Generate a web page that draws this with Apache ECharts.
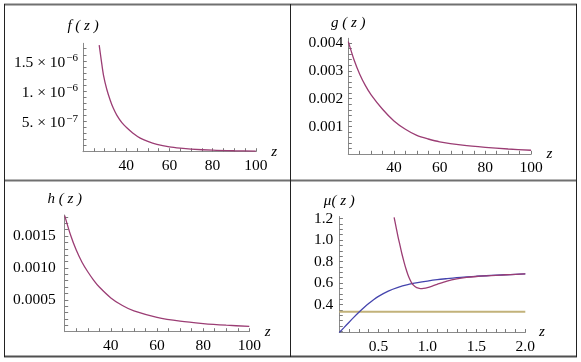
<!DOCTYPE html>
<html>
<head>
<meta charset="utf-8">
<script src="https://cdn.jsdelivr.net/npm/echarts@6/dist/echarts.min.js"></script>
<style>
html,body{margin:0;padding:0;background:#fff}
#main{width:581px;height:362px}
</style>
</head>
<body>
<div id="main"></div>
<script>
// ---- data ----
var fZ = [27.5, 28.5, 29.5, 31, 32.6, 34, 35.7, 38, 40.4, 43, 46.5, 50, 54.2, 60, 65, 70, 80, 90, 100];
var fVal = [1.76e-6, 1.5e-6, 1.26e-6, 1.03e-6, 0.85e-6, 0.72e-6, 0.6e-6, 0.48e-6, 0.39e-6, 0.31e-6, 0.225e-6, 0.17e-6, 0.122e-6, 0.08e-6, 0.058e-6, 0.043e-6, 0.025e-6, 0.016e-6, 0.011e-6];

var gZ = [20, 22.5, 25, 27.5, 30, 35, 40, 45, 50, 55, 60, 70, 80, 90, 100];
var gVal = [0.00405, 0.0034, 0.00288, 0.00247, 0.00214, 0.00162, 0.0012, 0.0009, 0.00068, 0.00055, 0.00045, 0.00033, 0.00025, 0.00019, 0.000145];

var hZ = [20, 22.5, 25, 27.5, 30, 32.5, 35, 40, 45, 50, 60, 70, 80, 90, 100];
var hVal = [0.00182, 0.00152, 0.00128, 0.00109, 0.00094, 0.00081, 0.0007, 0.00053, 0.00041, 0.000325, 0.000225, 0.000165, 0.000128, 0.000102, 0.000083];

var muBlueZ = [0.1, 0.15, 0.2, 0.25, 0.3, 0.35, 0.4, 0.45, 0.5, 0.6, 0.7, 0.8, 0.9, 1.0, 1.1, 1.2, 1.3, 1.4, 1.5, 1.6, 1.7, 1.8, 1.9, 2.0];
var muBlue = [0.14, 0.188, 0.236, 0.283, 0.328, 0.37, 0.41, 0.445, 0.476, 0.525, 0.56, 0.585, 0.603, 0.618, 0.631, 0.641, 0.65, 0.657, 0.663, 0.668, 0.673, 0.677, 0.681, 0.685];

var muRedZ = [0.66, 0.68, 0.70, 0.72, 0.74, 0.76, 0.78, 0.80, 0.82, 0.84, 0.86, 0.88, 0.90, 0.93, 0.96, 1.0, 1.05, 1.1, 1.2, 1.3, 1.4, 1.5, 1.6, 1.7, 1.8, 1.9, 2.0];
var muRed = [1.21, 1.12, 1.03, 0.95, 0.87, 0.80, 0.735, 0.68, 0.635, 0.60, 0.578, 0.563, 0.554, 0.549, 0.551, 0.558, 0.572, 0.588, 0.617, 0.638, 0.652, 0.661, 0.667, 0.672, 0.677, 0.681, 0.685];

var muFlatZ = [0.1, 2.0];
var muFlat = [0.333, 0.333];

// tick labels
var zTicks = [40, 60, 80, 100];
var zLabels = ['40', '60', '80', '100'];
var zMinor = [25, 30, 35, 45, 50, 55, 65, 70, 75, 85, 90, 95];
var fTicks = [5e-7, 1e-6, 1.5e-6];
var fMant = ['5.', '1.', '1.5'];
var fExp = ['\u22127', '\u22126', '\u22126'];
var gTicks = [0.001, 0.002, 0.003, 0.004];
var gLabels = ['0.001', '0.002', '0.003', '0.004'];
var hTicks = [0.0005, 0.0010, 0.0015];
var hLabels = ['0.0005', '0.0010', '0.0015'];
var muXTicks = [0.5, 1.0, 1.5, 2.0];
var muXLabels = ['0.5', '1.0', '1.5', '2.0'];
var muXMinor = [0.2, 0.3, 0.4, 0.6, 0.7, 0.8, 0.9, 1.1, 1.2, 1.3, 1.4, 1.6, 1.7, 1.8, 1.9];
var muYTicks = [0.4, 0.6, 0.8, 1.0, 1.2];
var muYLabels = ['0.4', '0.6', '0.8', '1.0', '1.2'];

function zip(a, b) {
    var out = [];
    for (var i = 0; i < a.length; i++) out.push([a[i], b[i]]);
    return out;
}
function range(a, b, step) {
    var out = [];
    for (var i = 0; a + i * step <= b + step / 1000; i++) out.push(+(a + i * step).toFixed(10));
    return out;
}
function pick(ticks, labels) {
    return function (v) {
        for (var i = 0; i < ticks.length; i++) {
            if (Math.abs(v - ticks[i]) < Math.abs(ticks[i]) * 1e-6) return labels[i];
        }
        return '';
    };
}

var FONT = '"Liberation Serif", "DejaVu Serif", serif';
var axisGray = '#8a8a8a';

function axis(grid, min, max, majors, minors, fmt, name, isX, nameGap, margin) {
    return {
        gridIndex: grid,
        type: 'value',
        min: min,
        max: max,
        axisLine: { onZero: false, lineStyle: { color: axisGray, width: 1 } },
        axisTick: { inside: true, length: 3.5, customValues: majors.concat(minors), lineStyle: { color: '#7a7a7a' } },
        axisLabel: {
            customValues: majors,
            formatter: fmt,
            color: '#000',
            fontFamily: FONT,
            fontSize: 15.5,
            margin: margin,
            rich: {
                m: { fontFamily: FONT, fontSize: 15.5, color: '#000', verticalAlign: 'bottom', lineHeight: 20 },
                e: { fontFamily: FONT, fontSize: 11, color: '#000', verticalAlign: 'bottom', lineHeight: 20, padding: [0, 0, 7, 1] }
            }
        },
        splitLine: { show: false },
        name: name,
        nameLocation: 'end',
        nameGap: nameGap,
        nameTextStyle: {
            fontFamily: FONT,
            fontStyle: 'italic',
            fontSize: 15,
            color: '#000',
            padding: isX ? [8, 0, 0, 0] : [0, 0, 0, 0]
        }
    };
}

var fFmt = function (v) {
    for (var i = 0; i < fTicks.length; i++) {
        if (Math.abs(v - fTicks[i]) < fTicks[i] * 1e-6) return '{m|' + fMant[i] + ' \u00d7 10}{e|' + fExp[i] + '}';
    }
    return '';
};

var purple = '#9b3d74';
function line(grid, data, color, width) {
    return {
        type: 'line',
        xAxisIndex: grid,
        yAxisIndex: grid,
        data: data,
        showSymbol: false,
        smooth: 0.3,
        clip: true,
        lineStyle: { color: color, width: width || 1.3 },
        itemStyle: { color: color }
    };
}

var dom = document.getElementById('main');
var myChart = echarts.init(dom, null, { renderer: 'canvas' });

var option = {
    animation: false,
    backgroundColor: '#fff',
    grid: [
        { left: 83, top: 43.3, width: 172.8, height: 108.4, containLabel: false, outerBoundsMode: 'none' },
        { left: 348.3, top: 38.3, width: 182.7, height: 116, containLabel: false, outerBoundsMode: 'none' },
        { left: 64.7, top: 215, width: 184.6, height: 116.7, containLabel: false, outerBoundsMode: 'none' },
        { left: 339.3, top: 216.5, width: 186, height: 116, containLabel: false, outerBoundsMode: 'none' }
    ],
    xAxis: [
        axis(0, 20, 100, zTicks, zMinor, pick(zTicks, zLabels), 'z', true, 13, 6),
        axis(1, 20, 100, zTicks, zMinor, pick(zTicks, zLabels), 'z', true, 13, 6),
        axis(2, 20, 100, zTicks, zMinor, pick(zTicks, zLabels), 'z', true, 13, 6),
        axis(3, 0.1, 2.0, muXTicks, muXMinor, pick(muXTicks, muXLabels), 'z', true, 13, 6)
    ],
    yAxis: [
        axis(0, 0, 1.789e-6, fTicks, range(1e-7, 1.7e-6, 1e-7), fFmt, 'f ( z )', false, 10, 5),
        axis(1, 0, 0.00417, gTicks, range(0.0002, 0.0041, 0.0002), pick(gTicks, gLabels), 'g ( z )', false, 8, 5),
        axis(2, 0, 0.00183, hTicks, range(0.0001, 0.0018, 0.0001), pick(hTicks, hLabels), 'h ( z )', false, 8, 9),
        axis(3, 0.14, 1.219, muYTicks, range(0.15, 1.2, 0.05), pick(muYTicks, muYLabels), '\u03bc( z )', false, 8, 6)
    ],
    series: [
        line(0, zip(fZ, fVal), purple),
        line(1, zip(gZ, gVal), purple),
        line(2, zip(hZ, hVal), purple),
        line(3, zip(muFlatZ, muFlat), '#c2b27a', 2),
        line(3, zip(muBlueZ, muBlue), '#4444ad'),
        line(3, zip(muRedZ, muRed), purple)
    ],
    graphic: [
        { type: 'line', shape: { x1: 4, y1: 4.5, x2: 577, y2: 4.5 }, style: { stroke: '#707070', lineWidth: 2 } },
        { type: 'line', shape: { x1: 4, y1: 180.5, x2: 577, y2: 180.5 }, style: { stroke: '#707070', lineWidth: 2 } },
        { type: 'line', shape: { x1: 4, y1: 356.5, x2: 577, y2: 356.5 }, style: { stroke: '#505050', lineWidth: 2 } },
        { type: 'line', shape: { x1: 4.5, y1: 4, x2: 4.5, y2: 357 }, style: { stroke: '#222', lineWidth: 1 } },
        { type: 'line', shape: { x1: 290.5, y1: 4, x2: 290.5, y2: 357 }, style: { stroke: '#222', lineWidth: 1 } },
        { type: 'line', shape: { x1: 576.5, y1: 4, x2: 576.5, y2: 357 }, style: { stroke: '#222', lineWidth: 1 } }
    ]
};

if (option && typeof option === "object") {
    myChart.setOption(option, true);
}
</script>
</body>
</html>
